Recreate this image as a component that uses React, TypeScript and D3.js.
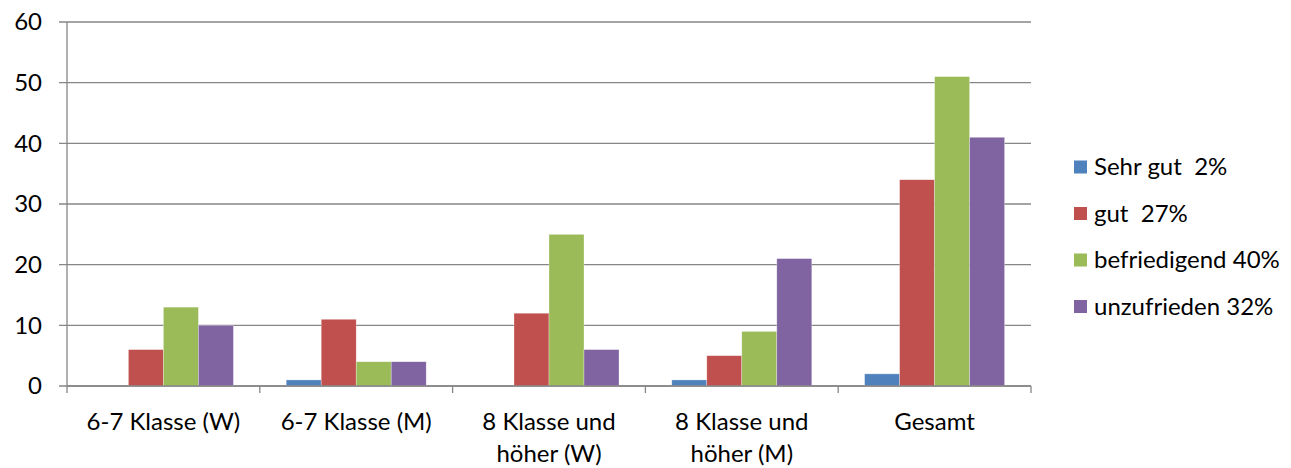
import React from "react";
import * as d3 from "d3";

const categories: string[][] = [
  ["6-7 Klasse (W)"],
  ["6-7 Klasse (M)"],
  ["8 Klasse und", "höher (W)"],
  ["8 Klasse und", "höher (M)"],
  ["Gesamt"],
];
const seriesNames = ["Sehr gut  2%", "gut  27%", "befriedigend 40%", "unzufrieden 32%"];
const sehrGut = [0, 1, 0, 1, 2];
const gut = [6, 11, 12, 5, 34];
const befriedigend = [13, 4, 25, 9, 51];
const unzufrieden = [10, 4, 6, 21, 41];
const colors = ["#4F81BD", "#C0504D", "#9BBB59", "#8064A2"];
const yTicks = [0, 10, 20, 30, 40, 50, 60];

const W = 1291;
const H = 468;
const left = 67;
const right = 1031;
const top = 22;
const bottom = 386;
const font = "Lato, 'Noto Sans', sans-serif";
const fs = 24;

export default function App() {
  const series = [sehrGut, gut, befriedigend, unzufrieden];
  const x0 = d3
    .scaleBand<number>()
    .domain(categories.map((_, i) => i))
    .range([left, right])
    .paddingInner(0)
    .paddingOuter(0);
  const groupPad = 26.4;
  const x1 = d3
    .scaleBand<number>()
    .domain(series.map((_, i) => i))
    .range([groupPad, x0.bandwidth() - groupPad]);
  const y = d3.scaleLinear().domain([0, 60]).range([bottom, top]);
  const grid = "#868686";
  const boundaries = d3.range(categories.length + 1).map((i) => left + i * x0.bandwidth());

  return (
    <svg width={W} height={H} style={{ position: "absolute", left: 0, top: 0 }} fontFamily={font}>
      <rect width={W} height={H} fill="#fff" />
      {yTicks.map((t) => (
        <g key={t}>
          <line x1={left - 8} x2={right} y1={y(t)} y2={y(t)} stroke={grid} strokeWidth={1.3} />
          <text x={42} y={y(t)} dy="0.35em" textAnchor="end" fontSize={fs} fill="#000">
            {t}
          </text>
        </g>
      ))}
      <line x1={left} x2={left} y1={top} y2={bottom} stroke={grid} strokeWidth={1.3} />
      {boundaries.map((b, i) => (
        <line key={i} x1={b} x2={b} y1={bottom} y2={bottom + 7} stroke={grid} strokeWidth={1.3} />
      ))}
      {categories.map((_, ci) =>
        series.map((s, si) => {
          const v = s[ci];
          if (v <= 0) return null;
          return (
            <rect
              key={`${ci}-${si}`}
              x={x0(ci)! + x1(si)!}
              y={y(v)}
              width={x1.bandwidth()}
              height={y(0) - y(v)}
              fill={colors[si]}
              stroke="#ffffff"
              strokeOpacity={0.5}
              strokeWidth={0.6}
            />
          );
        })
      )}
      <line x1={left} x2={right} y1={bottom} y2={bottom} stroke={grid} strokeWidth={1.3} />
      {categories.map((lines, ci) => (
        <text key={ci} textAnchor="middle" fontSize={fs} fill="#000">
          {lines.map((l, li) => (
            <tspan key={li} x={x0(ci)! + x0.bandwidth() / 2} y={430 + li * 32}>
              {l}
            </tspan>
          ))}
        </text>
      ))}
      {seriesNames.map((name, i) => {
        const cy = 167 + i * 46.5;
        return (
          <g key={name}>
            <rect x={1074} y={cy - 6.5} width={13} height={13} fill={colors[i]} />
            <text x={1094} y={cy} dy="0.35em" fontSize={fs} fill="#000" style={{ whiteSpace: "pre" }}>
              {name}
            </text>
          </g>
        );
      })}
    </svg>
  );
}
